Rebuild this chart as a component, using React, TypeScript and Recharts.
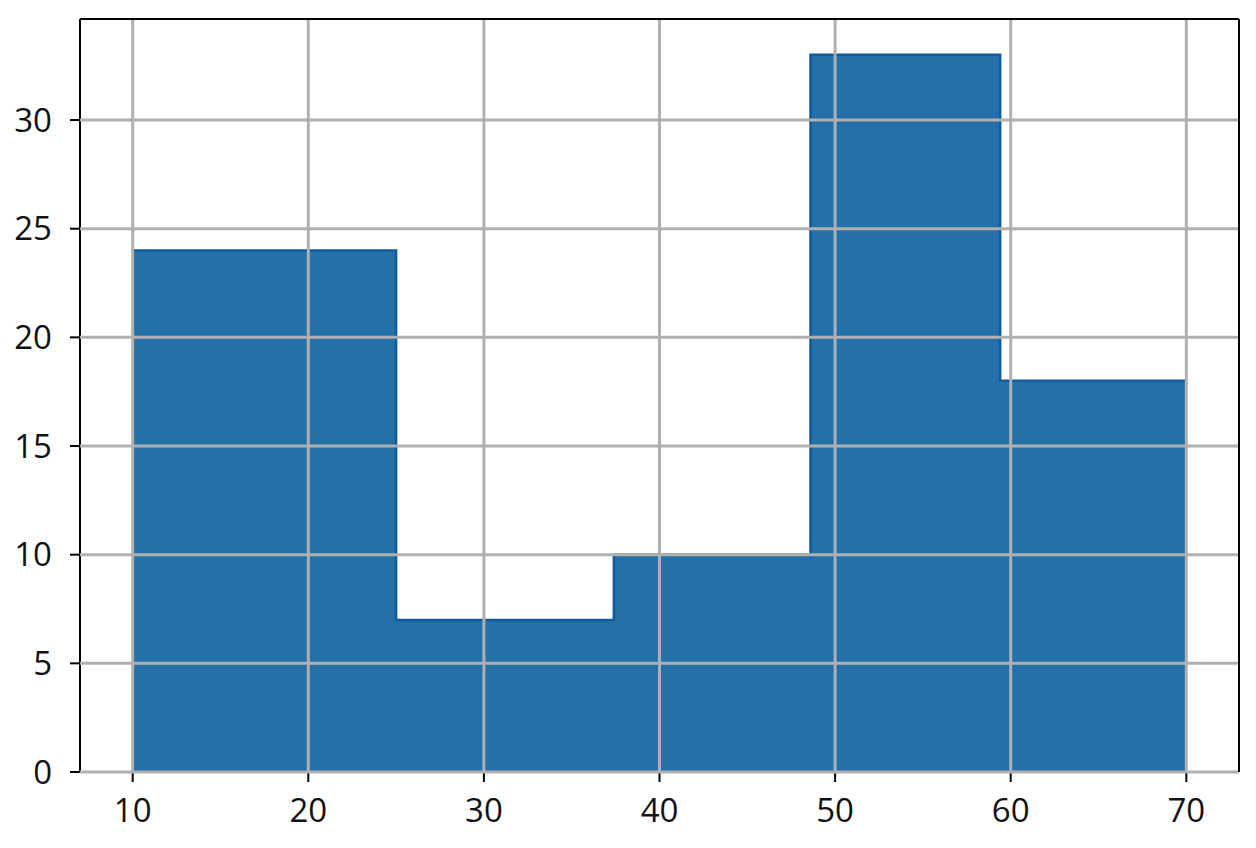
import React from "react";
import {
  ComposedChart,
  Area,
  XAxis,
  YAxis,
  CartesianGrid,
  ReferenceLine,
} from "recharts";

// Histogram bin edges and counts
const binEdges = [10, 25, 37.4, 48.6, 59.4, 70];
const counts = [24, 7, 10, 33, 18];
const xTicks = [10, 20, 30, 40, 50, 60, 70];
const yTicks = [0, 5, 10, 15, 20, 25, 30];

const xDomain: [number, number] = [7, 73];
const yDomain: [number, number] = [0, 34.65];

const data = binEdges.map((edge, i) => ({
  x: edge,
  count: counts[Math.min(i, counts.length - 1)],
}));

const FONT = "'Open Sans', 'Noto Sans', sans-serif";

export default function App() {
  const tickStyle = { fontSize: 33, fill: "#111", fontFamily: FONT };
  return (
    <div style={{ position: "absolute", left: 0, top: 0, background: "#fff" }}>
      <ComposedChart
        width={1256}
        height={848}
        data={data}
        margin={{ top: 19, right: 17, left: 0, bottom: 0 }}
      >
        <XAxis
          dataKey="x"
          type="number"
          domain={xDomain}
          ticks={xTicks}
          allowDataOverflow
          height={76}
          tickSize={10}
          tickMargin={17}
          tick={tickStyle}
          axisLine={{ stroke: "#000", strokeWidth: 2 }}
          tickLine={{ stroke: "#000", strokeWidth: 2 }}
          interval={0}
        />
        <YAxis
          type="number"
          domain={yDomain}
          ticks={yTicks}
          allowDataOverflow
          width={80}
          tickSize={10}
          tickMargin={18}
          tick={tickStyle}
          axisLine={{ stroke: "#000", strokeWidth: 2 }}
          tickLine={{ stroke: "#000", strokeWidth: 2 }}
          interval={0}
        />
        <Area
          type="stepAfter"
          dataKey="count"
          fill="#2470a9"
          fillOpacity={1}
          stroke="#0f5b9b"
          strokeWidth={2.5}
          isAnimationActive={false}
          dot={false}
          activeDot={false}
        />
        <CartesianGrid
          stroke="#b0b0b0"
          strokeWidth={3}
          horizontalValues={yTicks}
          verticalValues={xTicks}
          {...({ zIndex: 500 } as any)}
        />
        <ReferenceLine y={yDomain[1]} stroke="#000" strokeWidth={2} {...({ zIndex: 600 } as any)} />
        <ReferenceLine x={xDomain[1]} stroke="#000" strokeWidth={2} {...({ zIndex: 600 } as any)} />
      </ComposedChart>
    </div>
  );
}
